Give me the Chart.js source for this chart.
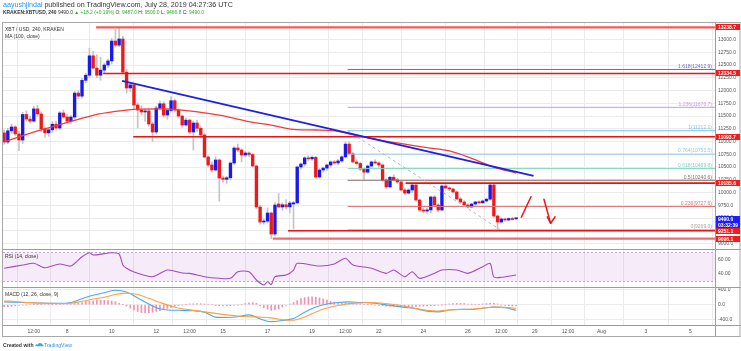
<!DOCTYPE html>
<html>
<head>
<meta charset="utf-8">
<script src="https://cdn.jsdelivr.net/npm/chart.js@4.4.1/dist/chart.umd.min.js"></script>
<style>
  html, body { margin: 0; padding: 0; background: #fff; }
  #wrap { position: relative; width: 741px; height: 351px; overflow: hidden; font-family: "Liberation Sans", Arial, sans-serif; }
  #c { position: absolute; left: 0; top: 0; }
  .t { position: absolute; white-space: nowrap; line-height: 1; color: #333; }
  .g { color: #2eaa2e; }
</style>
</head>
<body>
<div id="wrap">
  <canvas id="c" width="741" height="351"></canvas>
  <div class="t" style="left:3px;top:1.5px;font-size:7.1px;"><span style="color:#2196f3">aayushjindal</span> published on TradingView.com, July 28, 2019 04:27:36 UTC</div>
  <div class="t" style="left:3px;top:10.8px;font-size:4.9px;"><b>KRAKEN:XBTUSD, 240</b> 9490.0 <span class="g">▲ +18.2 (+0.19%)</span> O: <span class="g">9487.0</span> H: <span class="g">9500.0</span> L: <span class="g">9466.8</span> C: <span class="g">9490.0</span></div>
  <div class="t" style="left:5px;top:26.8px;font-size:5px;">XBT / USD, 240, KRAKEN</div>
  <div class="t" style="left:5px;top:33.8px;font-size:5px;">MA (100, close)</div>
  <div class="t" style="left:5px;top:254px;font-size:5px;">RSI (14, close)</div>
  <div class="t" style="left:5px;top:292px;font-size:5px;">MACD (12, 26, close, 9)</div>
  <div class="t" style="left:3px;top:341.5px;font-size:5.1px;"><b>Created with</b> <svg width="9" height="5" viewBox="0 0 10 5" style="vertical-align:-0.5px"><path d="M1 4.5 Q0 4.5 0.5 3 Q1.5 1.5 3 2.5 Q4 0 6.5 1 Q8 1 8.3 2.5 Q10 2.8 9.5 4.5 Z" fill="#46a6ea"/></svg><span style="color:#2196f3">TradingView</span></div>
</div>
<script>
// 4h candles, index 0 = Jul 5 04:00 UTC, last = Jul 28 04:00 UTC
const candleOpen = [11170,10990,11210,11285,11150,11030,11530,11440,11400,11640,
  11540,11250,11170,11230,11340,11265,11560,11480,11400,11480,
  11950,11890,12200,12300,12680,12440,12300,12400,12500,12580,
  12970,12890,13010,12360,12050,12110,11716,11618,11580,11600,
  11344,11187,11657,11740,11520,11610,11800,11618,11500,11324,
  11420,11187,11363,11260,11128,10697,10540,10442,10638,10285,
  10260,10290,10579,10873,10834,10736,10775,10745,10520,9717,
  9423,9440,9599,9188,9776,9717,9760,9720,9776,9800,
  10501,10560,10680,10660,10690,10305,10442,10480,10540,10600,
  10580,10620,10700,10950,10760,10600,10570,10460,10400,10520,
  10600,10580,10540,10246,10110,10300,10250,10207,10050,9990,
  10050,10148,9854,9658,9638,9660,9913,9756,9658,10129,
  10089,10070,10011,9874,9815,9756,9717,9776,9815,9800,
  9835,9870,10148,9540,9423,9482,9462,9490,9487];
const candleHigh = [11230,11260,11340,11310,11200,11570,11600,11500,11690,11710,
  11580,11290,11280,11390,11400,11590,11620,11530,11510,11990,
  12000,12240,12340,12830,12770,12700,12650,12540,12610,13020,
  13200,13238.7,13060,12420,12140,12140,11760,11700,11640,11640,
  11380,11700,11800,11780,11650,11880,11830,11640,11520,11460,
  11440,11400,11420,11300,11160,10720,10600,10700,10660,10330,
  10320,10600,10900,10950,10860,10800,10800,10770,10540,9750,
  9480,9700,9620,9800,9980,9800,9860,9830,9830,10520,
  10580,10700,10720,10720,10710,10470,10500,10560,10620,10630,
  10650,10720,10990,11000,10790,10640,10600,10480,10540,10620,
  10640,10600,10560,10270,10320,10350,10280,10230,10080,10070,
  10170,10160,9880,9700,9700,9930,9940,9780,10150,10160,
  10110,10090,10030,9900,9840,9780,9790,9830,9840,9850,
  9890,10185.6,10170,9560,9500,9500,9510,9520,9500];
const candleLow = [10950,10960,11150,11120,10820,10960,11400,11360,11380,11500,
  11200,11080,11100,11180,11240,11230,11460,11370,11350,11440,
  11840,11850,12150,12260,12420,12250,12200,12340,12450,12520,
  12850,12860,12330,11950,11980,11650,11265,11520,11400,11300,
  11000,11150,11620,11480,11440,11580,11580,11460,11280,11300,
  11150,10834,11200,11080,10680,10500,10400,10420,9830,10200,
  10180,10250,10550,10800,10600,10700,10700,10500,9680,9380,
  9380,9400,9096.1,9150,9700,9650,9680,9600,9290,9780,
  10460,10520,10620,10630,10280,10280,10400,10440,10500,10550,
  10540,10590,10680,10740,10580,10540,10430,10250,10380,10500,
  10560,10500,10220,10080,10090,10230,10180,10030,9960,9970,
  10000,9830,9630,9600,9590,9600,9740,9620,9640,10070,
  10040,9990,9860,9800,9740,9700,9700,9750,9780,9780,
  9810,9850,9520,9269,9400,9440,9450,9460,9466.8];
const candleClose = [10990,11210,11285,11150,11030,11530,11440,11400,11640,11540,
  11250,11170,11230,11340,11265,11560,11480,11400,11480,11950,
  11890,12200,12300,12680,12440,12300,12400,12500,12580,12970,
  12890,13010,12360,12050,12110,11716,11618,11580,11600,11344,
  11187,11657,11740,11520,11610,11800,11618,11500,11324,11420,
  11187,11363,11260,11128,10697,10540,10442,10638,10285,10260,
  10290,10579,10873,10834,10736,10775,10745,10520,9717,9423,
  9440,9599,9188,9756,9717,9760,9720,9795,9800,10501,
  10560,10680,10660,10690,10305,10442,10480,10540,10600,10580,
  10620,10700,10950,10760,10600,10570,10460,10400,10520,10600,
  10580,10540,10246,10110,10300,10250,10207,10050,9990,10050,
  10148,9854,9658,9638,9660,9913,9756,9658,10129,10089,
  10070,10011,9874,9815,9756,9717,9776,9815,9800,9835,
  9870,10148,9540,9423,9482,9462,9490,9472,9490];

// MA(100, close), one value every 6 candles
const maStep = 6;
const maVal = [10991,11140,11270,11395,11515,11590,11635,11640,11615,11560,11490,11390,
  11322,11240,11226,11200,11100,11020,10950,10880,10815,10670,10500,10380];

// RSI(14)
const rsiIdx = [0,5,8,11,15,18,21,23,24,29,31,32,33,35,40,44,48,50,54,58,
  61,63,66,68,70,71,72,73,76,78,79,85,89,92,94,99,103,105,108,110,
  112,116,118,122,125,129,131,132,134,138];
const rsiVal = [47.6,52.1,54.5,48.4,53.5,50.7,63.6,69.1,65.9,69.1,67.3,52.1,47.6,42.4,35.9,45.2,41,40.6,35.9,33.7,
  33.7,42.8,42.8,31.4,24.5,29,25,36,38.3,45.2,54.5,50.7,53.5,61.4,52.1,47.6,40.6,45.2,35.9,42.8,
  33.7,40.6,45.2,45.2,40.6,49.8,54.5,35.5,35.1,38.3];
const rsiBand = [70, 30];

// MACD(12, 26, close, 9), every 3 candles
const macdStep = 3;
const macdVal = [75,65,55,45,38,35,60,160,250,320,385,340,180,20,-110,-147,-150,-160,-200,-330,
  -340,-320,-270,-380,-450,-420,-370,-200,-60,20,60,75,60,50,10,-30,-70,-110,-170,-192,
  -140,-120,-128,-95,-65,-80,-150];
const signalVal = [100,85,60,45,38,33,40,90,150,200,270,310,270,170,60,-40,-110,-150,-190,-230,
  -270,-300,-320,-330,-350,-400,-414,-330,-192,-90,-20,30,45,60,40,5,-40,-100,-150,-166,
  -140,-128,-115,-90,-60,-70,-100];
const histVal = [-50,-55,-45,-30,-20, -10,-5,0,5,5,5,0,0,5,5,5,10,15,20,25,
  40,60,80,95,105,115,120,115,110,100, 80,40,10,
  -40,-90,-140,-180,-210,-220,-215,-200,-180,-160,
  -130,-100,-70,-40,-20,-10, 10,20,25,30,25,20,10,0,
  -20,-30,-35,-30,-25,-20,-10,0, 30,50,55,40,
  -30,-80,-120,-150,-140,-110,-60,-20,20,
  60,110,160,190,205,210,200,180,150,120,90,70,
  55,45,40,35,30,20,15,10,5,0,
  -10,-20,-30,-40,-45,-50,-55,-55,-60,-55,-50,-45,-40,-40,-35,-30,-25,-15,-5,
  10,20,30,35,35,30,20,10, 0,5, 20,30,40,35,20, -10,-20,-30,-35,-35];

// drawings
const redLevel = [13238.7, 12334.5, 11093.7, 10185.6, 9251.1, 9096.1];
const redStart = [24.8, 26.7, 34.8, 108.2, 76.5, 72.4];
const trendX = [31.8, 142.7];
const trendY = [12187, 10325];
const fibRatio = ['1.618', '1.236', '1', '0.764', '0.618', '0.5', '0.236', '0'];
const fibLevel = [12412.9, 11670.7, 11212.1, 10753.5, 10469.8, 10240.6, 9727.6, 9269.0];
const fibStart = 92.6;
const fibLineX = [92.6, 133.8];
const fibLineY = [11212.1, 9269.0];
const arrowUp = [[139.4, 9515], [142, 9919]];
const arrowDown = [[145.5, 9868], [147.3, 9397]];
const arrowHead = [[146.4, 9525], [147.3, 9397], [148.5, 9525]];
const lastPrice = 9490.0;
const barTimer = '03:32:39';

// axes
const xMin = -0.3, xMax = 191.6;
const xTickPos = [8, 17, 29, 41, 50, 59, 71, 83, 92, 101, 113, 125, 134, 143, 152, 161, 173, 185];
const xTickLbl = ['12:00', '8', '10', '12', '12:00', '15', '17', '19', '12:00', '22', '24', '26', '12:00', '29', '12:00', 'Aug', '3', '5'];
const priceTicks = [9000, 9250, 9500, 9750, 10000, 10250, 10500, 10750, 11000, 11250, 11500, 11750, 12000, 12250, 12500, 12750, 13000];
const rsiTicks = [60, 40];
const macdTicks = [400, 0, -400];

// styles
const upColor = '#1818f0', downColor = '#f01818', wickColor = '#c4c4c4';
const redColor = ['#f45a5a', '#ee1111', '#ee1111', '#ee1111', '#ee1111', '#f56a6a'];
const redWidth = [2.2, 1.5, 1.6, 1.8, 1.4, 2.2];
const fibColor = ['#6a6ac2', '#c89ae6', '#7cc2e8', '#8ec8ea', '#7fd8bf', '#8a6f6f', '#e07474', '#a6a6a6'];
const gridColor = '#ebebeb';
const axisFont = { size: 5, family: '"Liberation Sans", Arial, sans-serif' };

Chart.defaults.font.family = '"Liberation Sans", Arial, sans-serif';

const idx = candleOpen.map((_, i) => i);
const datasets = [];

// wicks and bodies as floating bars
datasets.push({
  type: 'bar', yAxisID: 'y', order: 20, grouped: false, barThickness: 1,
  data: idx.map(i => ({ x: i, y: [candleLow[i], candleHigh[i]] })),
  backgroundColor: wickColor
});
datasets.push({
  type: 'bar', yAxisID: 'y', order: 19, grouped: false, barThickness: 2.7, minBarLength: 1,
  data: idx.map(i => ({ x: i, y: [candleOpen[i], candleClose[i]] })),
  backgroundColor: idx.map(i => candleClose[i] >= candleOpen[i] ? upColor : downColor)
});

const line = (data, color, width, extra) => Object.assign({
  type: 'line', data, borderColor: color, borderWidth: width, pointRadius: 0, fill: false, tension: 0
}, extra || {});

// fib levels
fibLevel.forEach((v, k) => {
  datasets.push(line([{ x: fibStart, y: v }, { x: xMax, y: v }], fibColor[k], 1, { yAxisID: 'y', order: 10 }));
});
datasets.push(line(fibLineX.map((x, k) => ({ x, y: fibLineY[k] })), '#b4b4b4', 1, { yAxisID: 'y', order: 9, borderDash: [3, 3] }));

// horizontal support/resistance
redLevel.forEach((v, k) => {
  datasets.push(line([{ x: redStart[k], y: v }, { x: xMax, y: v }], redColor[k], redWidth[k], { yAxisID: 'y', order: 5 }));
});

// MA and trend line
datasets.push(line(maVal.map((v, k) => ({ x: k * maStep, y: v })), '#f03c3c', 1.3, { yAxisID: 'y', order: 4, cubicInterpolationMode: 'monotone' }));
datasets.push(line(trendX.map((x, k) => ({ x, y: trendY[k] })), '#1f1fe8', 1.8, { yAxisID: 'y', order: 3 }));

// RSI
datasets.push(line(rsiIdx.map((x, k) => ({ x, y: rsiVal[k] })), '#a04cc0', 1.1, { yAxisID: 'yRsi', order: 2, tension: 0.25 }));

// MACD
datasets.push({
  type: 'bar', yAxisID: 'yMacd', order: 8, grouped: false, barThickness: 1,
  data: histVal.map((v, i) => ({ x: i, y: v })), backgroundColor: '#f48fb1'
});
datasets.push(line(macdVal.map((v, k) => ({ x: k * macdStep, y: v })), '#4aa8f0', 1.1, { yAxisID: 'yMacd', order: 2, cubicInterpolationMode: 'monotone' }));
datasets.push(line(signalVal.map((v, k) => ({ x: k * macdStep, y: v })), '#ffa040', 1.1, { yAxisID: 'yMacd', order: 1, cubicInterpolationMode: 'monotone' }));

const fixWidth = s => { s.width = 26; };

const tvDraw = {
  id: 'tvDraw',
  beforeDatasetsDraw(chart) {
    const { ctx, chartArea: a } = chart;
    const r = chart.scales.yRsi;
    const top = Math.round(r.getPixelForValue(rsiBand[0])) + 0.5;
    const bot = Math.round(r.getPixelForValue(rsiBand[1])) + 0.5;
    ctx.save();
    ctx.fillStyle = 'rgba(190,120,215,0.14)';
    ctx.fillRect(a.left, top, a.right - a.left, bot - top);
    ctx.strokeStyle = '#c0a8d0';
    ctx.lineWidth = 1;
    ctx.setLineDash([2, 2]);
    [top, bot].forEach(y => {
      ctx.beginPath(); ctx.moveTo(a.left, y); ctx.lineTo(a.right, y); ctx.stroke();
    });
    ctx.restore();
  },
  afterDraw(chart) {
    const { ctx, chartArea: a, scales } = chart;
    const sx = scales.x, sy = scales.y;
    const W = chart.width;
    ctx.save();

    // pane separators and frame
    ctx.strokeStyle = '#9c9c9c';
    ctx.lineWidth = 1;
    const hl = (y, x0, x1) => { ctx.beginPath(); ctx.moveTo(x0, y); ctx.lineTo(x1, y); ctx.stroke(); };
    hl(Math.round(sy.bottom) + 0.5, a.left, W);
    hl(Math.round(scales.yRsi.bottom) + 0.5, a.left, W);
    hl(Math.round(a.bottom) + 0.5, a.left, W);
    ctx.beginPath(); ctx.moveTo(Math.round(a.right) + 0.5, a.top); ctx.lineTo(Math.round(a.right) + 0.5, a.bottom + 11); ctx.stroke();
    ctx.strokeStyle = '#a8a8a8';
    ctx.strokeRect(a.left - 0.5, a.top + 0.5, W - a.left - 0.5, a.bottom + 11 - a.top);

    // fib labels
    ctx.font = '5px "Liberation Sans", Arial, sans-serif';
    ctx.textAlign = 'right';
    ctx.textBaseline = 'bottom';
    fibLevel.forEach((v, k) => {
      ctx.fillStyle = fibColor[k];
      ctx.fillText(fibRatio[k] + '(' + v.toFixed(1) + ')', a.right - 3, sy.getPixelForValue(v) - 0.5);
    });

    // hand-drawn arrows
    const P = p => [sx.getPixelForValue(p[0]), sy.getPixelForValue(p[1])];
    ctx.strokeStyle = '#f01414';
    ctx.lineWidth = 1.5;
    ctx.lineCap = 'round';
    ctx.lineJoin = 'round';
    [arrowUp, arrowDown, arrowHead].forEach(path => {
      ctx.beginPath();
      path.forEach((p, k) => { const q = P(p); if (k) ctx.lineTo(q[0], q[1]); else ctx.moveTo(q[0], q[1]); });
      ctx.stroke();
    });

    // axis price labels
    ctx.font = 'bold 5px "Liberation Sans", Arial, sans-serif';
    ctx.textAlign = 'left';
    ctx.textBaseline = 'middle';
    const box = (y, txt, bg) => {
      ctx.fillStyle = bg;
      ctx.fillRect(a.right + 1, Math.round(y) - 3, 24, 6);
      ctx.fillStyle = '#fff';
      ctx.fillText(txt, a.right + 3, Math.round(y) + 0.2);
    };
    redLevel.forEach(v => box(sy.getPixelForValue(v), v.toFixed(1), '#f21b1b'));
    const yp = sy.getPixelForValue(lastPrice);
    box(yp, lastPrice.toFixed(1), '#1c1cff');
    box(yp + 6.5, barTimer, '#1c1cff');
    ctx.restore();
  }
};

new Chart(document.getElementById('c'), {
  type: 'line',
  data: { datasets },
  options: {
    responsive: false,
    animation: false,
    events: [],
    layout: { padding: { left: 3, top: 22, right: 0, bottom: 15 } },
    plugins: { legend: { display: false }, tooltip: { enabled: false } },
    scales: {
      x: {
        type: 'linear', position: 'bottom', min: xMin, max: xMax, offset: false,
        grid: { color: gridColor, drawTicks: false },
        border: { display: false },
        afterBuildTicks: s => { s.ticks = xTickPos.map(v => ({ value: v })); },
        afterFit: s => { s.height = 11; },
        ticks: {
          autoSkip: false, maxRotation: 0, padding: 3.5, color: '#555', font: axisFont,
          callback: v => { const k = xTickPos.indexOf(v); return k >= 0 ? xTickLbl[k] : ''; }
        }
      },
      y: {
        type: 'linear', position: 'right', stack: 'pane', stackWeight: 227,
        min: 8893.8, max: 13343,
        grid: { color: gridColor, drawTicks: false },
        border: { display: false },
        afterBuildTicks: s => { s.ticks = priceTicks.map(v => ({ value: v })); },
        afterFit: fixWidth,
        ticks: { autoSkip: false, padding: 3, color: '#555', font: axisFont, callback: v => v.toFixed(1) }
      },
      yRsi: {
        type: 'linear', position: 'right', stack: 'pane', stackWeight: 38,
        min: 21.7, max: 74.25,
        grid: { display: false, drawTicks: false },
        border: { display: false },
        afterBuildTicks: s => { s.ticks = rsiTicks.map(v => ({ value: v })); },
        afterFit: fixWidth,
        ticks: { autoSkip: false, padding: 3, color: '#555', font: axisFont, callback: v => v.toFixed(2) }
      },
      yMacd: {
        type: 'linear', position: 'right', stack: 'pane', stackWeight: 38,
        min: -541, max: 472,
        grid: { color: gridColor, drawTicks: false },
        border: { display: false },
        afterBuildTicks: s => { s.ticks = macdTicks.map(v => ({ value: v })); },
        afterFit: fixWidth,
        ticks: { autoSkip: false, padding: 3, color: '#555', font: axisFont, callback: v => v.toFixed(1) }
      }
    }
  },
  plugins: [tvDraw]
});
</script>
</body>
</html>
